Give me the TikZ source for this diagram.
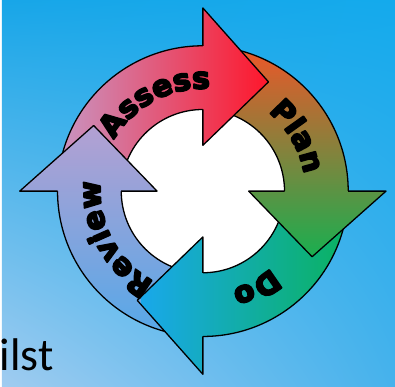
\documentclass[tikz,border=0pt]{standalone}
\usepackage{fontspec}
\setmainfont{Carlito}
\newfontfamily\heavyfont{DejaVu Sans}
\usetikzlibrary{decorations.text,shadings}

\definecolor{bgul}{RGB}{24,166,232}
\definecolor{bgur}{RGB}{20,170,236}
\definecolor{bgll}{RGB}{160,204,240}
\definecolor{bglr}{RGB}{70,178,236}
\definecolor{assessleft}{RGB}{200,150,195}
\definecolor{assessright}{RGB}{255,20,40}
\definecolor{plantop}{RGB}{240,85,40}
\definecolor{planbottom}{RGB}{25,175,80}
\definecolor{doleft}{RGB}{25,168,235}
\definecolor{doright}{RGB}{10,178,95}
\definecolor{reviewtop}{RGB}{180,160,210}
\definecolor{reviewbottom}{RGB}{85,168,232}

\tikzset{
  outline/.style={draw=black, line width=1.3pt, line join=round},
  assessshade/.style={left color=assessleft, right color=assessright},
  planshade/.style={top color=plantop, bottom color=planbottom},
  doshade/.style={left color=doleft, right color=doright},
  reviewshade/.style={top color=reviewtop, bottom color=reviewbottom},
  arrowtext/.style={decorate, decoration={text along path, text align=center,
    text={|\heavyfont\bfseries\fontsize{30}{30}\selectfont\special{pdf:literal direct 2 Tr 1.8 w 1 j}|#1}}}
}

\begin{document}
\begin{tikzpicture}[x=1pt,y=1pt]
\shade[upper left=bgul, upper right=bgur, lower left=bgll, lower right=bglr] (0,0) rectangle (395,388);
\node[anchor=base west, inner sep=0pt, font=\fontsize{46}{46}\selectfont] (whilst) at (-2,16) {ilst};
\begin{scope}[shift={(202,196)}]
\fill[white] (0,0) circle[radius=82];
\foreach \b/\sh/\xa/\ya/\xb/\yb in {90/assessshade/-146/-190/70/190, 0/planshade/-10/-66/190/148, -90/doshade/-62/-190/146/10, 180/reviewshade/-190/-146/10/66}{
  \begin{scope}
    \clip (\b+86:146) arc[start angle=\b+86, end angle=\b, radius=146] -- (\b:82) arc[start angle=\b, end angle=\b+86, radius=82] -- cycle;
    \shade[\sh] (\xa,\ya) rectangle (\xb,\yb);
  \end{scope}
  \draw[outline] (\b+86:146) arc[start angle=\b+86, end angle=\b, radius=146];
  \draw[outline] (\b+86:82) arc[start angle=\b+86, end angle=\b, radius=82];
}
\foreach \b/\sh/\xa/\ya/\xb/\yb in {90/assessshade/-146/-190/70/190, 0/planshade/-10/-66/190/148, -90/doshade/-62/-190/146/10, 180/reviewshade/-190/-146/10/66}{
  \begin{scope}
    \clip (\b:184) -- (\b-31:128) -- (\b:46) -- cycle;
    \shade[\sh] (\xa,\ya) rectangle (\xb,\yb);
  \end{scope}
  \draw[outline] (\b:146) -- (\b:184) -- (\b-31:128) -- (\b:46) -- (\b:82);
}
\path[arrowtext=Assess] (163:103) arc[start angle=163, end angle=73, radius=103];
\path[arrowtext=Plan] (75:103) arc[start angle=75, end angle=-15, radius=103];
\path[arrowtext=Do] (-16:103) arc[start angle=-16, end angle=-106, radius=103];
\path[arrowtext=Review] (253:103) arc[start angle=253, end angle=163, radius=103];
\end{scope}
\end{tikzpicture}
\end{document}
